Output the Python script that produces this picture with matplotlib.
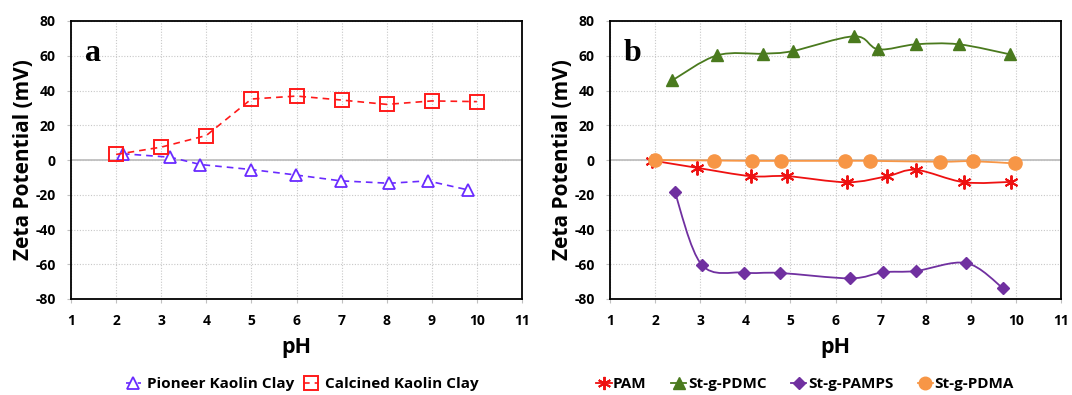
import numpy as np
import matplotlib
matplotlib.use("Agg")
import matplotlib.pyplot as plt
from matplotlib.path import Path
from matplotlib.patches import PathPatch
from matplotlib.lines import Line2D

plt.rcParams['font.family'] = ['Open Sans', 'DejaVu Sans']
plt.rcParams['axes.unicode_minus'] = False

# ---- Panel a data ----
pioneer_ph = [2.15, 3.2, 3.87, 5.0, 5.98, 6.98, 8.06, 8.91, 9.8]
pioneer_zeta = [3.6, 1.6, -2.6, -5.5, -8.6, -12.0, -13.4, -12.0, -17.2]
calcined_ph = [2, 3, 4, 5, 6, 7, 8, 9, 10]
calcined_zeta = [3.2, 7.4, 14.1, 35.1, 36.8, 34.5, 32.0, 34.0, 33.6]

# ---- Panel b data ----
pam_ph = [1.94, 2.93, 4.12, 4.93, 6.26, 7.15, 7.79, 8.85, 9.89]
pam_zeta = [-0.3, -4.5, -9.3, -9.3, -12.8, -9.3, -5.7, -12.8, -12.6]
pdmc_ph = [2.38, 3.37, 4.40, 5.05, 6.42, 6.95, 7.79, 8.73, 9.87]
pdmc_zeta = [45.8, 60.2, 61.2, 62.7, 71.2, 63.7, 66.6, 66.6, 60.8]
pamps_ph = [2.44, 3.03, 3.97, 4.76, 6.33, 7.05, 7.78, 8.90, 9.71]
pamps_zeta = [-18.7, -60.2, -64.8, -65.0, -68.1, -64.6, -63.9, -59.3, -73.7]
pdma_ph = [2.0, 3.31, 4.15, 4.80, 6.22, 6.77, 8.32, 9.04, 9.98]
pdma_zeta = [0.0, -0.3, -0.5, -0.5, -0.5, -0.5, -1.0, -0.7, -2.0]

x_ticks = list(range(1, 12))
y_ticks = list(range(-80, 81, 20))

W, H = 1072, 395
fig = plt.figure(figsize=(W / 100, H / 100), dpi=100)

def px_axes(x0, x1, y0, y1):
    return fig.add_axes([x0 / W, 1 - y1 / H, (x1 - x0) / W, (y1 - y0) / H])

axA = px_axes(71, 522, 21, 299)
axB = px_axes(610, 1061, 21, 299)

def smooth_path(xs, ys):
    pts = np.column_stack([xs, ys]).astype(float)
    n = len(pts)
    verts = [pts[0]]
    codes = [Path.MOVETO]
    for i in range(n - 1):
        p0 = pts[i - 1] if i > 0 else pts[i]
        p1 = pts[i]
        p2 = pts[i + 1]
        p3 = pts[i + 2] if i + 2 < n else pts[i + 1]
        c1 = p1 + (p2 - p0) / 6.0
        c2 = p2 - (p3 - p1) / 6.0
        verts += [c1, c2, p2]
        codes += [Path.CURVE4] * 3
    return Path(verts, codes)

def style_axes(ax, letter):
    ax.set_xlim(1, 11)
    ax.set_ylim(-80, 80)
    ax.set_xticks(x_ticks)
    ax.set_yticks(y_ticks)
    ax.grid(True, color='#c8c8c8', linestyle=(0, (1, 1.5)), linewidth=0.8)
    ax.set_axisbelow(True)
    ax.axhline(0, color='#bfbfbf', linewidth=1.3, zorder=1)
    for s in ax.spines.values():
        s.set_color('black')
        s.set_linewidth(1.3)
        s.set_zorder(5)
    ax.tick_params(axis='both', length=3, width=0.8, color='#c0c0c0', pad=8,
                   labelsize=10)
    for lab in ax.get_xticklabels() + ax.get_yticklabels():
        lab.set_fontweight('bold')
    ax.set_xlabel('pH', fontsize=15.5, fontweight='bold')
    ax.xaxis.set_label_coords(0.5, -0.138)
    ax.set_ylabel('Zeta Potential (mV)', fontsize=15, fontweight='bold')
    ax.yaxis.set_label_coords(-0.106, 0.5)
    ax.yaxis.label.set_va('center')
    ax.text(0.031, 0.855, letter, transform=ax.transAxes, fontsize=23,
            fontweight='bold', family='Liberation Serif', va='baseline', ha='left')

style_axes(axA, 'a')
style_axes(axB, 'b')

# Panel a
c_pio = '#6a2bff'
c_cal = '#ff1a1a'
axA.plot(pioneer_ph, pioneer_zeta, linestyle=(0, (4, 3)), color=c_pio, lw=1.2,
         marker='^', ms=9, mfc='white', mec=c_pio, mew=1.3, zorder=3,
         label='Pioneer Kaolin Clay')
axA.plot(calcined_ph, calcined_zeta, linestyle=(0, (4, 3)), color=c_cal, lw=1.2,
         marker='s', ms=10, mfc='none', mec=c_cal, mew=1.4, zorder=4,
         label='Calcined Kaolin Clay')
legA = fig.legend(*axA.get_legend_handles_labels(), loc='center',
                  bbox_to_anchor=(302 / W, 1 - 384 / H), ncol=2, frameon=False,
                  prop={'weight': 'bold', 'size': 11}, handlelength=1.0,
                  handletextpad=0.4, columnspacing=0.6)

# Panel b
c_pam = '#ee1111'
c_pdmc = '#4a7a1e'
c_pamps = '#7030a0'
c_pdma = '#f79646'
series_b = [
    (pam_ph, pam_zeta, c_pam, (6, 2, 0), 10, 'PAM', 1.4),
    (pdmc_ph, pdmc_zeta, c_pdmc, '^', 9, 'St-g-PDMC', 1.0),
    (pamps_ph, pamps_zeta, c_pamps, 'D', 6.5, 'St-g-PAMPS', 1.0),
    (pdma_ph, pdma_zeta, c_pdma, 'o', 9.5, 'St-g-PDMA', 1.0),
]
handles = []
for xs, ys, c, m, ms, lab, mew in series_b:
    patch = PathPatch(smooth_path(xs, ys), facecolor='none', edgecolor=c, lw=1.3, zorder=3)
    axB.add_patch(patch)
    axB.plot(xs, ys, linestyle='none', marker=m, ms=ms, color=c, mec=c, mew=mew, zorder=4)
    handles.append(Line2D([], [], color=c, lw=1.3, marker=m, ms=ms * 0.95, mec=c, mew=mew, label=lab))
legB = fig.legend(handles=handles, loc='center', bbox_to_anchor=(805 / W, 1 - 384 / H),
                  ncol=4, frameon=False, prop={'weight': 'bold', 'size': 11},
                  handlelength=1.0, handletextpad=0.1, columnspacing=1.6)

fig.savefig('out.png', dpi=100)
